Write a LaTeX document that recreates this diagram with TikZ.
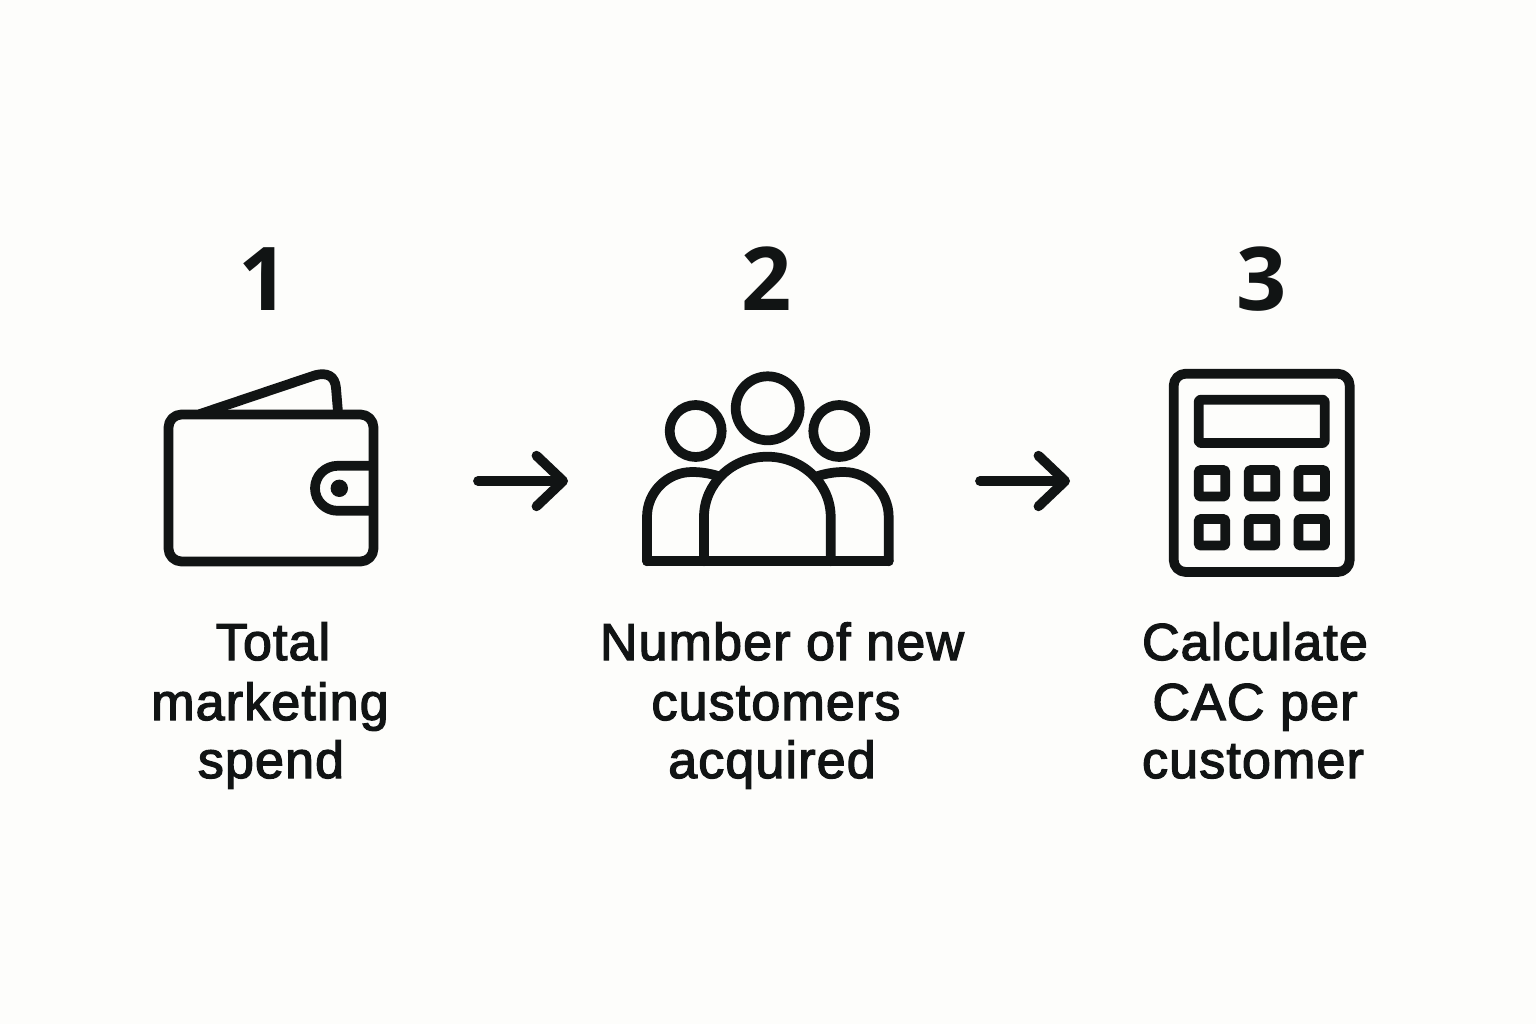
\documentclass[tikz,border=0pt]{standalone}
\usepackage{fontspec}
\usetikzlibrary{arrows.meta}
\setmainfont{Liberation Sans}
\newfontfamily\labelfont[FakeBold=2.5,LetterSpace=2.2]{Liberation Sans}
\newfontfamily\numfont{Open Sans}
\definecolor{ink}{HTML}{111414}
\definecolor{paper}{HTML}{FDFDFB}
\tikzset{
  x=0.75pt,y=-0.75pt,
  icon/.style={draw=ink,line width=7.3pt,line join=round,line cap=round},
  dotfill/.style={fill=ink,draw=none},
  lbl/.style={text=ink,anchor=base,inner sep=0pt,font=\labelfont\fontsize{39}{42}\selectfont},
  num/.style={text=ink,anchor=base,inner sep=0pt,font=\numfont\bfseries\fontsize{66}{70}\selectfont},
  flow/.style={draw=ink,line width=7.3pt,line cap=round,line join=round,-{Straight Barb[length=20pt,width=38pt,round]}}
}
\begin{document}
\begin{tikzpicture}
\useasboundingbox[fill=paper] (0,0) rectangle (1536,1024);
% numbers
\node[num] (n1) at (264,310) {1};
\node[num] (n2) at (767,310) {2};
\node[num] (n3) at (1262,310) {3};
% wallet
\draw[icon] (200,414) -- (315,375.3) .. controls (327,372) and (335,376) .. (336,388) -- (338,412);
\draw[icon,rounded corners=9.75pt] (168.5,414.5) rectangle (373.5,561.5);
\draw[icon,line cap=butt] (373,465.8) -- (337.5,465.8) arc[start angle=270,end angle=90,radius=22.5] -- (373,510.8);
\fill[dotfill] (339.3,488.3) circle[radius=8.7];
% people
\draw[icon] (767.7,408.3) circle[radius=32];
\draw[icon] (695.7,431) circle[radius=26];
\draw[icon] (839.3,431) circle[radius=26];
\draw[icon] (647,561.3) -- (647,517) arc[start angle=180,end angle=270,radius=45] .. controls (701,472) and (710,473.5) .. (718,476);
\draw[icon] (888.7,561.3) -- (888.7,517) arc[start angle=0,end angle=-90,radius=45] .. controls (834.7,472) and (826,473.5) .. (818,476);
\draw[icon] (704,561.3) -- (704,517) arc[start angle=180,end angle=360,x radius=63.35,y radius=60.3] -- (830.7,561.3);
\draw[icon] (647,561.3) -- (888.7,561.3);
% calculator
\draw[icon,rounded corners=9pt] (1173.7,373.7) rectangle (1349.7,572);
\draw[icon,rounded corners=1.5pt] (1198.7,399.7) rectangle (1324.7,443);
\foreach \cx in {1212,1262,1311.7}
  \foreach \cy in {483.3,532.3}
    \draw[icon,rounded corners=1pt] (\cx-13.3,\cy-13.3) rectangle (\cx+13.3,\cy+13.3);
% arrows
\coordinate (a1s) at (478,481);
\coordinate (a1e) at (568,481);
\coordinate (a2s) at (980,481);
\coordinate (a2e) at (1070,481);
\draw[flow] (a1s) -- (a1e);
\draw[flow] (a2s) -- (a2e);
% labels
\node[lbl] (t1a) at (273,660) {Total};
\node[lbl] (t1b) at (270,720) {marketing};
\node[lbl] (t1c) at (271,778) {spend};
\node[lbl] (t2a) at (782,660) {Number of new};
\node[lbl] (t2b) at (776,720) {customers};
\node[lbl] (t2c) at (772,778) {acquired};
\node[lbl] (t3a) at (1255,660) {Calculate};
\node[lbl] (t3b) at (1255,720) {CAC per};
\node[lbl] (t3c) at (1253,778) {customer};
\end{tikzpicture}
\end{document}
